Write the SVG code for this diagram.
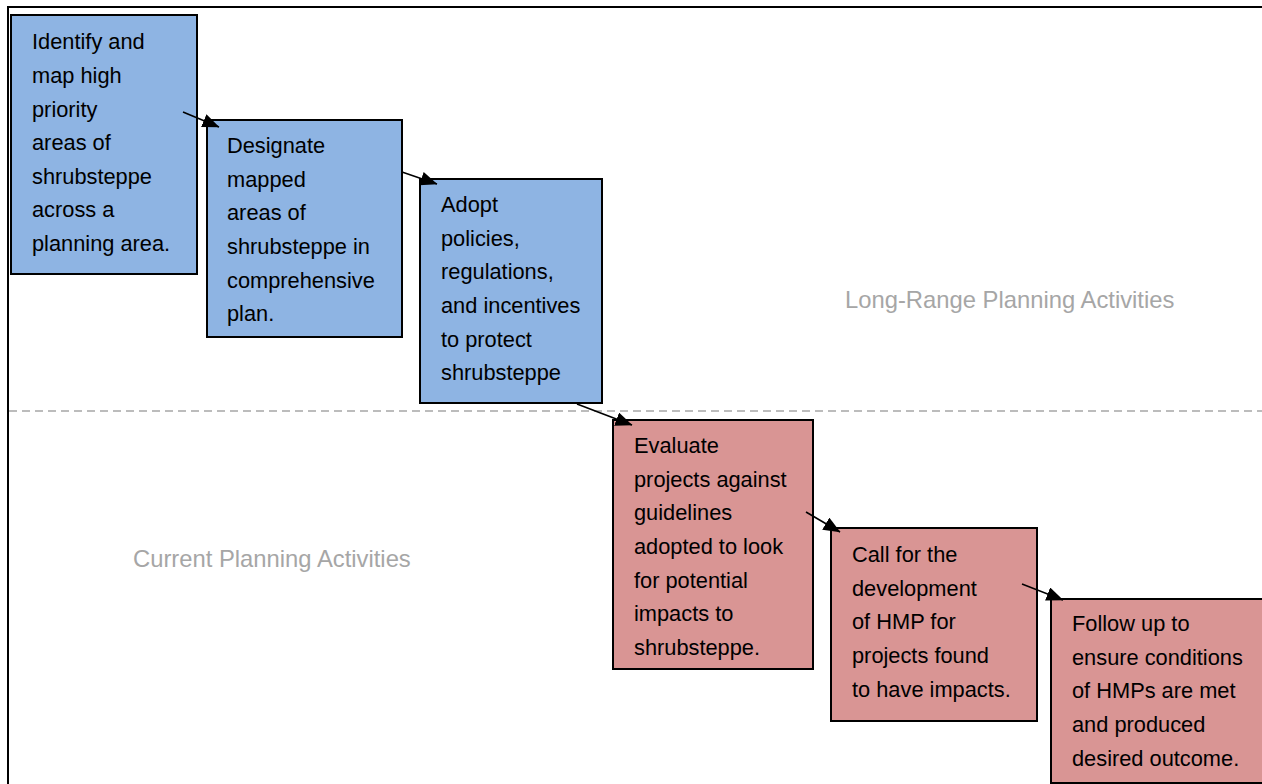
<svg xmlns="http://www.w3.org/2000/svg" width="1262" height="784" viewBox="0 0 1262 784">
<style>
.blue{fill:#8eb4e3;stroke:#000;stroke-width:2}
.red{fill:#d99594;stroke:#000;stroke-width:2}
.t{font-family:"Liberation Sans",Arial,sans-serif;font-size:21.8px;fill:#000}
.lbl{font-family:"Liberation Sans",Arial,sans-serif;font-size:23.8px;fill:#a6a6a6}
.conn{stroke:#000;stroke-width:1.6;fill:none;marker-end:url(#ah)}
</style>
<defs>
<marker id="ah" markerWidth="17" markerHeight="14" refX="16.5" refY="7" orient="auto" markerUnits="userSpaceOnUse" viewBox="0 0 17 14">
<path d="M0,0 L17,7 L0,14 Z" fill="#000"/>
</marker>
</defs>
<rect x="0" y="0" width="1262" height="784" fill="#fff"/>
<rect id="frame" x="8" y="7" width="1264" height="790" fill="none" stroke="#000" stroke-width="2"/>
<line x1="9" y1="411" x2="1262" y2="411" stroke="#a6a6a6" stroke-width="1.5" stroke-dasharray="8,5"/>
<text class="lbl" x="845" y="308">Long-Range Planning Activities</text>
<text class="lbl" x="133" y="567">Current Planning Activities</text>
<g id="n1">
<rect class="blue" x="11" y="15" width="186" height="259"/>
<text class="t"><tspan x="32" y="49">Identify and</tspan><tspan x="32" y="83">map high</tspan><tspan x="32" y="117">priority</tspan><tspan x="32" y="150">areas of</tspan><tspan x="32" y="184">shrubsteppe</tspan><tspan x="32" y="217">across a</tspan><tspan x="32" y="251">planning area.</tspan></text>
</g>
<g id="n2">
<rect class="blue" x="207" y="120" width="195" height="217"/>
<text class="t"><tspan x="227" y="153">Designate</tspan><tspan x="227" y="187">mapped</tspan><tspan x="227" y="220">areas of</tspan><tspan x="227" y="254">shrubsteppe in</tspan><tspan x="227" y="288">comprehensive</tspan><tspan x="227" y="321">plan.</tspan></text>
</g>
<g id="n3">
<rect class="blue" x="420" y="179" width="182" height="224"/>
<text class="t"><tspan x="441" y="212">Adopt</tspan><tspan x="441" y="246">policies,</tspan><tspan x="441" y="279">regulations,</tspan><tspan x="441" y="313">and incentives</tspan><tspan x="441" y="347">to protect</tspan><tspan x="441" y="380">shrubsteppe</tspan></text>
</g>
<g id="n4">
<rect class="red" x="613" y="420" width="200" height="249"/>
<text class="t"><tspan x="634" y="453">Evaluate</tspan><tspan x="634" y="487">projects against</tspan><tspan x="634" y="520">guidelines</tspan><tspan x="634" y="554">adopted to look</tspan><tspan x="634" y="588">for potential</tspan><tspan x="634" y="621">impacts to</tspan><tspan x="634" y="655">shrubsteppe.</tspan></text>
</g>
<g id="n5">
<rect class="red" x="831" y="528" width="206" height="193"/>
<text class="t"><tspan x="852" y="562">Call for the</tspan><tspan x="852" y="596">development</tspan><tspan x="852" y="629">of HMP for</tspan><tspan x="852" y="663">projects found</tspan><tspan x="852" y="697">to have impacts.</tspan></text>
</g>
<g id="n6">
<rect class="red" x="1051" y="599" width="220" height="184"/>
<text class="t"><tspan x="1072" y="631">Follow up to</tspan><tspan x="1072" y="665">ensure conditions</tspan><tspan x="1072" y="698">of HMPs are met</tspan><tspan x="1072" y="732">and produced</tspan><tspan x="1072" y="766">desired outcome.</tspan></text>
</g>
<g id="connectors">
<line class="conn" x1="183" y1="112" x2="219" y2="127"/>
<line class="conn" x1="402" y1="172" x2="437" y2="184"/>
<line class="conn" x1="577" y1="404" x2="632" y2="425"/>
<line class="conn" x1="806" y1="512" x2="840" y2="532"/>
<line class="conn" x1="1022" y1="584" x2="1063" y2="600"/>
</g>
</svg>
